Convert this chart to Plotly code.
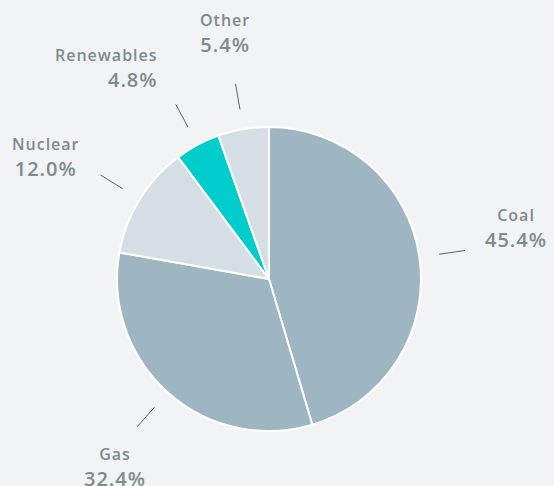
import math
import plotly.graph_objects as go

# ---- data ----
categories = ["Coal", "Gas", "Nuclear", "Renewables", "Other"]
shares = [45.4, 32.4, 12.0, 4.8, 5.4]
value_labels = ["45.4%", "32.4%", "12.0%", "4.8%", "5.4%"]

# ---- style ----
slice_colors = ["#9eb5c2", "#9eb5c2", "#d5dee4", "#00cccc", "#d5dee4"]
BG = "#f1f3f5"
TEXT = "#7d8a8f"
LEADER = "#56666c"
W, H = 554, 486
CX, CY, R = 269, 279, 152          # pie centre / radius in pixels
LINE_R0, LINE_R1 = 172, 198        # leader line radii
LABEL_R = 250                      # label block radius
# per-label nudges (pixels) and anchoring
label_nudge = {"Coal": (0, -15), "Gas": (12, 2), "Nuclear": (-10, 10),
               "Renewables": (9, 10), "Other": (-2, 1)}
label_xanchor = {"Renewables": "right"}

fig = go.Figure()
fig.add_trace(go.Pie(
    labels=categories, values=shares, sort=False, direction="clockwise",
    rotation=0, textinfo="none", hoverinfo="label+percent",
    marker=dict(colors=slice_colors, line=dict(color="#ffffff", width=2)),
    domain=dict(x=[(CX - R) / W, (CX + R) / W],
                y=[(H - CY - R) / H, (H - CY + R) / H]),
    showlegend=False,
))

total = sum(shares)
cum = 0.0
for name, v, vl in zip(categories, shares, value_labels):
    mid = (cum + v / 2) / total * 2 * math.pi
    cum += v
    sx, sy = math.sin(mid), -math.cos(mid)
    fig.add_trace(go.Scatter(
        x=[CX + LINE_R0 * sx, CX + LINE_R1 * sx],
        y=[CY + LINE_R0 * sy, CY + LINE_R1 * sy],
        mode="lines", line=dict(color=LEADER, width=1),
        hoverinfo="skip", showlegend=False,
    ))
    dx, dy = label_nudge.get(name, (0, 0))
    xa = label_xanchor.get(name, "center")
    fig.add_annotation(
        x=CX + LABEL_R * sx + dx, y=CY + LABEL_R * sy + dy,
        xref="x", yref="y", xanchor=xa, yanchor="middle",
        align="right" if xa == "right" else "center",
        showarrow=False,
        text=(f'<span style="font-size:16px;letter-spacing:1px">{name}</span><br>'
              f'<span style="letter-spacing:1px">{vl}</span>'),
        font=dict(family="Open Sans", size=20, color=TEXT, weight=600),
    )

fig.update_layout(
    width=W, height=H, margin=dict(l=0, r=0, t=0, b=0),
    paper_bgcolor=BG, plot_bgcolor=BG,
    xaxis=dict(range=[0, W], visible=False, fixedrange=True),
    yaxis=dict(range=[H, 0], visible=False, fixedrange=True),
)

fig.write_html("out.html", config={"displayModeBar": False},
               post_script="document.body.style.margin='0';")
